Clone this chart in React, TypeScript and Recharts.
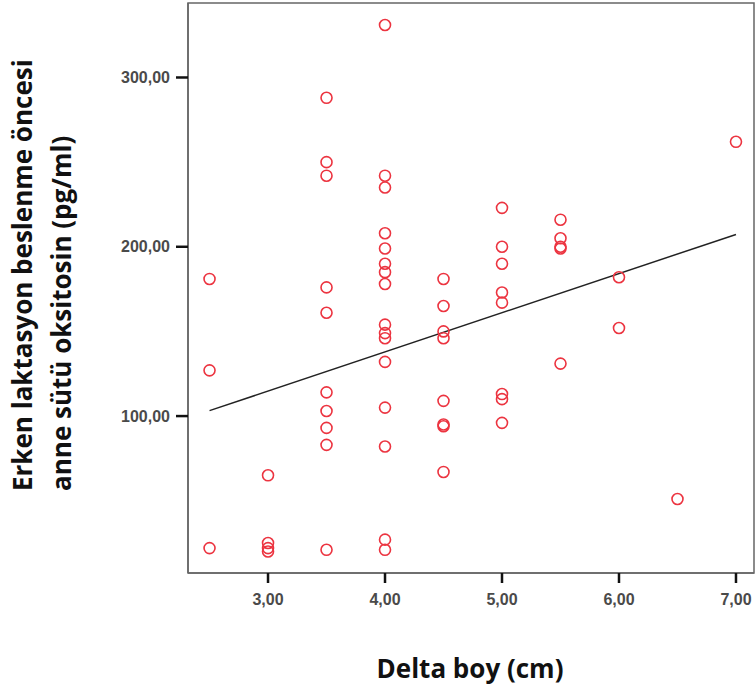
// App.tsx
import {
  ScatterChart,
  Scatter,
  XAxis,
  YAxis,
  ReferenceLine,
  ReferenceArea,
} from 'recharts';

const deltaBoy = [
  2.5, 2.5, 2.5,
  3, 3, 3, 3,
  3.5, 3.5, 3.5, 3.5, 3.5, 3.5, 3.5, 3.5, 3.5, 3.5,
  4, 4, 4, 4, 4, 4, 4, 4, 4, 4, 4, 4, 4, 4, 4, 4,
  4.5, 4.5, 4.5, 4.5, 4.5, 4.5, 4.5, 4.5,
  5, 5, 5, 5, 5, 5, 5, 5,
  5.5, 5.5, 5.5, 5.5, 5.5,
  6, 6,
  6.5,
  7,
];
const oksitosin = [
  181, 127, 22,
  65, 25, 22, 20,
  288, 250, 242, 176, 161, 114, 103, 93, 83, 21,
  331, 242, 235, 208, 199, 190, 185, 178, 154, 149, 146, 132, 105, 82, 27, 21,
  181, 165, 150, 146, 109, 95, 94, 67,
  223, 200, 190, 173, 167, 113, 110, 96,
  216, 205, 200, 199, 131,
  182, 152,
  51,
  262,
];
const fitX = [2.5, 7.0];
const fitY = [103.2, 207.3];
const xTicks = [3, 4, 5, 6, 7];
const yTicks = [100, 200, 300];
const xTitle = 'Delta boy (cm)';
const yTitle = ['Erken laktasyon beslenme öncesi', 'anne sütü oksitosin (pg/ml)'];

const xDomain = [2.316, 7.154];
const yDomain = [7.3, 344];

const points = deltaBoy.map((x, i) => ({ x, y: oksitosin[i] }));
const fmt = (v: number) => v.toFixed(2).replace('.', ',');

const tickStyle = { fontFamily: 'Liberation Sans', fontSize: 16, fontWeight: 700, fill: '#4a4a4a' };
const frame = { stroke: '#666', strokeWidth: 1.5 };

const Ring = (props: any) => (
  <circle cx={props.cx} cy={props.cy} r={5.5} fill="none" stroke="#ec3440" strokeWidth={1.6} />
);

const YTitle = () => (
  <text
    transform="translate(32, 491) rotate(-90)"
    fontFamily="Open Sans"
    fontWeight={700}
    fontSize={26}
    fill="#111"
  >
    <tspan x={0} y={0}>{yTitle[0]}</tspan>
    <tspan x={0} y={39}>{yTitle[1]}</tspan>
  </text>
);

const XTitle = () => (
  <text x={470} y={678} textAnchor="middle" fontFamily="Open Sans" fontWeight={700} fontSize={26} fill="#111">
    {xTitle}
  </text>
);

export default function App() {
  return (
    <div style={{ position: 'absolute', left: 0, top: 0, background: '#fff' }}>
      <ScatterChart width={755} height={694} margin={{ top: 3, right: 1, bottom: 0, left: 0 }}>
        <XAxis
          type="number"
          dataKey="x"
          domain={xDomain}
          ticks={xTicks}
          tickFormatter={fmt}
          height={121}
          tickSize={10}
          tickMargin={11}
          tick={tickStyle}
          axisLine={frame}
          tickLine={{ stroke: '#111', strokeWidth: 2.5 }}
          label={{ content: () => <XTitle /> }}
        />
        <YAxis
          type="number"
          dataKey="y"
          domain={yDomain}
          ticks={yTicks}
          tickFormatter={fmt}
          width={188}
          tickSize={12}
          tickMargin={6}
          tick={tickStyle}
          axisLine={frame}
          tickLine={{ stroke: '#111', strokeWidth: 2.5 }}
          label={{ content: () => <YTitle /> }}
        />
        <ReferenceArea
          x1={xDomain[0]}
          x2={xDomain[1]}
          y1={yDomain[0]}
          y2={yDomain[1]}
          fill="#fff"
          fillOpacity={0}
          stroke="#666"
          strokeWidth={1.5}
        />
        <Scatter data={points} shape={Ring} isAnimationActive={false} />
        <ReferenceLine
          segment={[
            { x: fitX[0], y: fitY[0] },
            { x: fitX[1], y: fitY[1] },
          ]}
          stroke="#222"
          strokeWidth={1.5}
        />
      </ScatterChart>
    </div>
  );
}
